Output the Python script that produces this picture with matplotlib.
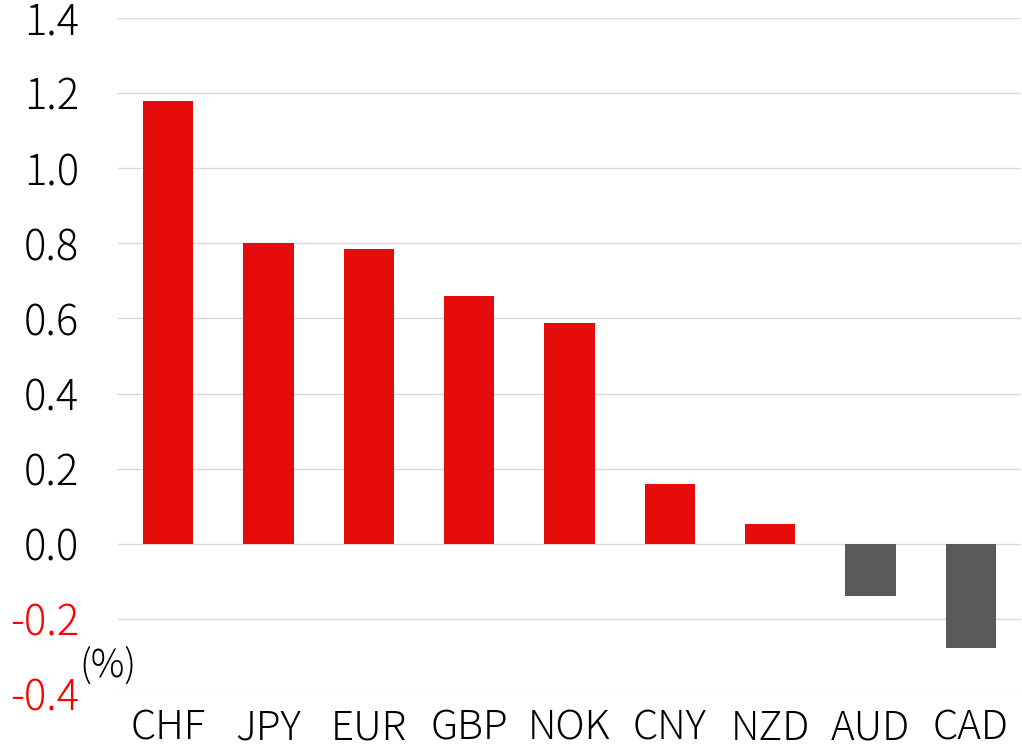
import matplotlib.pyplot as plt

plt.rcParams['font.family'] = ['Noto Sans CJK JP', 'DejaVu Sans']
plt.rcParams['font.weight'] = 'light'

# 通貨別の騰落率 (%)
currencies = ["CHF", "JPY", "EUR", "GBP", "NOK", "CNY", "NZD", "AUD", "CAD"]
changes = [1.18, 0.80, 0.785, 0.66, 0.588, 0.16, 0.053, -0.138, -0.277]
yticks = [-0.4, -0.2, 0.0, 0.2, 0.4, 0.6, 0.8, 1.0, 1.2, 1.4]

colors = ["#E60C0C" if v >= 0 else "#595959" for v in changes]

fig = plt.figure(figsize=(10.22, 7.51), dpi=100)
ax = fig.add_axes([0.1155, 0.0759, 0.8835, 0.9])

ax.bar(range(len(currencies)), changes, width=0.5, color=colors, zorder=3)

ax.set_xlim(-0.5, len(currencies) - 0.5)
ax.set_ylim(-0.4, 1.4)
ax.set_yticks(yticks)
ax.set_yticklabels([f"{t:.1f}" for t in yticks])
ax.set_xticks(range(len(currencies)))
ax.set_xticklabels(currencies)

for lab, t in zip(ax.get_yticklabels(), yticks):
    if t < 0:
        lab.set_color("#FF0000")

ax.tick_params(axis="y", length=0, labelsize=30, pad=28)
ax.tick_params(axis="x", length=0, labelsize=29, pad=10)

ax.grid(axis="y", color="#D9D9D9", linewidth=1, zorder=0)
for s in ax.spines.values():
    s.set_visible(False)

fig.text(0.078, 0.113, "(%)", fontsize=27, ha="left", va="center")

fig.savefig("out.png", dpi=100)
